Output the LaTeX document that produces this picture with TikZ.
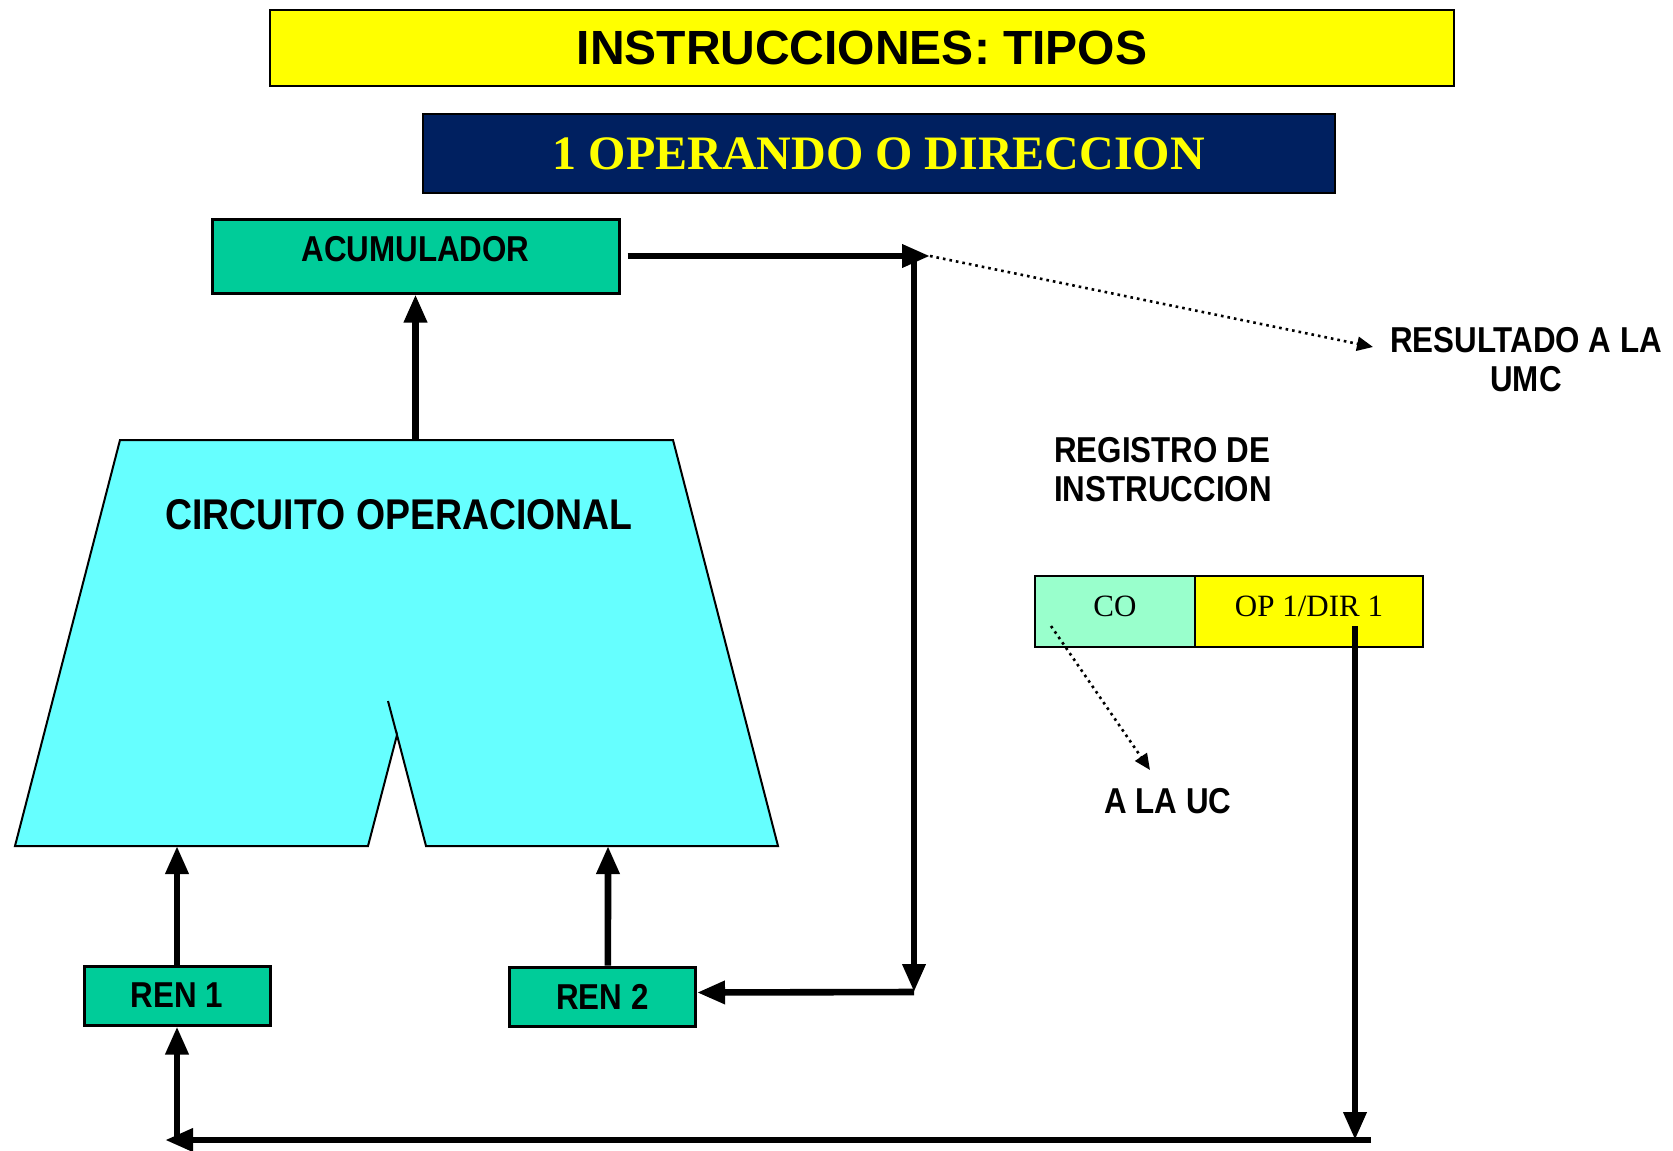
\documentclass[tikz,border=0pt]{standalone}
\usepackage{fontspec}
\setmainfont{Liberation Sans}
\newfontfamily\timesfont{Liberation Serif}
\newfontfamily\narrowfont{Liberation Sans}[FakeStretch=0.87]
\usetikzlibrary{arrows.meta}
\definecolor{titleyellow}{HTML}{FFFF00}
\definecolor{navyblue}{HTML}{002060}
\definecolor{regcolor}{HTML}{00CC99}
\definecolor{alucolor}{HTML}{66FFFF}
\definecolor{cocolor}{HTML}{99FFCC}

\begin{document}
\begin{tikzpicture}[x=0.5pt,y=-0.5pt,
	reg/.style={draw,line width=1.5pt,fill=regcolor,inner sep=0pt,
		font=\narrowfont\bfseries\fontsize{18}{20}\selectfont},
	field/.style={draw,line width=1.2pt,inner sep=0pt,minimum height=35.5pt,text depth=5.5pt,
		font=\timesfont\fontsize{15.5}{18}\selectfont},
	bus/.style={line width=3.3pt,-{Triangle[length=14pt,width=11pt]}},
	hint/.style={line width=1.3pt,dotted,-{Triangle[length=8pt,width=7pt]}},
	lbl/.style={font=\narrowfont\bfseries\fontsize{18}{19.5}\selectfont}]
	\useasboundingbox (0,0) rectangle (1673,1150);

	% titulos
	\node[draw,line width=1pt,fill=titleyellow,minimum width=592pt,minimum height=38pt,
		font=\bfseries\fontsize{24}{28}\selectfont] (titulo) at (862,48) {INSTRUCCIONES: TIPOS};
	\node[draw,line width=1pt,fill=navyblue,text=titleyellow,minimum width=456pt,minimum height=39.5pt,
		font=\timesfont\bfseries\fontsize{24}{28}\selectfont] (tipo) at (879,153.5) {1 OPERANDO O DIRECCION};

	% circuito operacional
	\draw[line width=1pt,fill=alucolor] (120,440) -- (673,440) -- (778,846) -- (426,846)
		-- (397,735) -- (368,846) -- (15,846) -- cycle;
	\draw[line width=1pt] (397,735) -- (388,701);
	\node[font=\narrowfont\bfseries\fontsize{21.5}{24}\selectfont] (alu) at (399,515) {CIRCUITO OPERACIONAL};
	\coordinate (aluout) at (415.5,440);
	\coordinate (aluin1) at (177,846);
	\coordinate (aluin2) at (608,846);

	% registros
	\node[reg,minimum width=203.5pt,minimum height=37pt,text depth=7pt] (acum) at (415.5,256) {ACUMULADOR};
	\node[reg,minimum width=93pt,minimum height=29.5pt] (ren1) at (177,995.5) {REN 1};
	\node[reg,minimum width=93pt,minimum height=29.5pt] (ren2) at (602.5,996.5) {REN 2};

	% registro de instruccion
	\node[field,fill=cocolor,minimum width=80pt] (co) at (1115,611.5) {CO};
	\node[field,fill=titleyellow,minimum width=114pt] (op) at (1309,611.5) {OP 1/DIR 1};
	\node[lbl,align=left] (ri) at (1163,470) {REGISTRO DE\\INSTRUCCION};
	\node[lbl] (uc) at (1168,801) {A LA UC};
	\node[lbl,align=center] (res) at (1526,360) {RESULTADO A LA\\UMC};

	\coordinate (j1) at (930,256);
	\coordinate (j2) at (914,256);
	\coordinate (j3) at (914,992);
	\coordinate (resin) at (1373,347);
	\coordinate (cod) at (1051,626);
	\coordinate (ucin) at (1150,770);
	\coordinate (opd) at (1355,626);
	\coordinate (b1) at (1355,1140);
	\coordinate (b2) at (1371,1140);
	\coordinate (b3) at (165,1140);
	\coordinate (b4) at (177,1140);

	% conexiones
	\draw[bus] (aluout) -- (acum.south);
	\draw[bus] ([xshift=3.5pt]acum.east) -- (j1);
	\draw[bus] (j2) -- (j3);
	\draw[bus] (j3) -- ([yshift=2pt]ren2.east);
	\draw[hint] (j1) -- (resin);
	\draw[bus] (ren1.north) -- (aluin1);
	\draw[bus] ([xshift=2.7pt]ren2.north) -- (aluin2);
	\draw[hint] (cod) -- (ucin);
	\draw[bus] (opd) -- (b1);
	\draw[bus] (b2) -- (b3);
	\draw[bus] (b4) -- (ren1.south);
\end{tikzpicture}
\end{document}
